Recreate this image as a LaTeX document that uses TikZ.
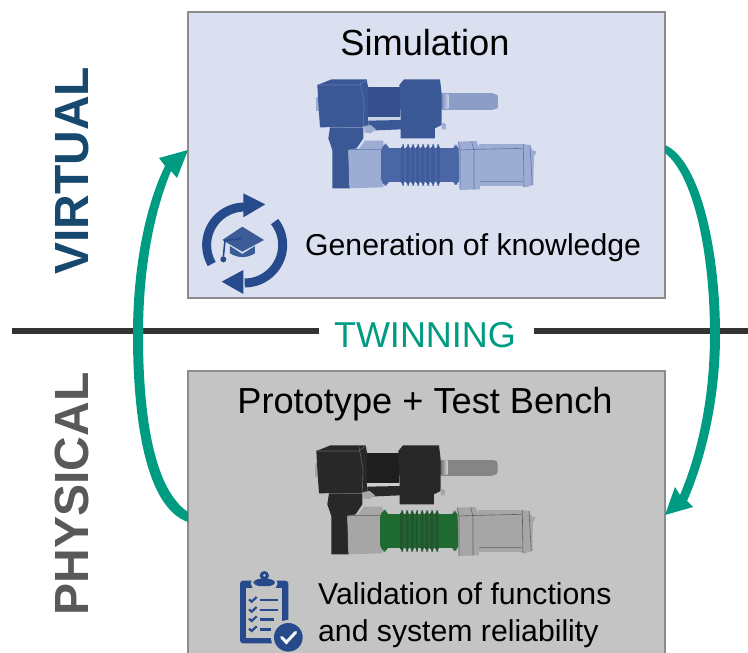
\documentclass[tikz,border=0pt]{standalone}
\usepackage{fontspec}
\setmainfont{Liberation Sans}
\usetikzlibrary{calc}
\definecolor{boxblue}{HTML}{DAE0F0}
\definecolor{boxgrey}{HTML}{C4C4C4}
\definecolor{edgegrey}{HTML}{8C8C8C}
\definecolor{twin}{HTML}{009C82}
\definecolor{navy}{HTML}{17496F}
\definecolor{iconblue}{HTML}{264A8C}
\definecolor{physgrey}{HTML}{595959}
\definecolor{barc}{HTML}{333333}
\tikzset{
  stagebox/.style={draw=edgegrey,line width=2pt,anchor=north west,minimum width=477pt,inner sep=0pt,outer sep=0pt},
  sidelabel/.style={font=\bfseries\fontsize{48}{50}\selectfont,rotate=90,inner sep=0pt},
  title/.style={font=\fontsize{36.2}{40}\selectfont,text=black,inner sep=0pt},
  caption/.style={font=\fontsize{30.2}{37}\selectfont,text=black,inner sep=0pt},
  bar/.style={draw=barc,line width=5.5pt},
  twinarrow/.style={fill=twin,draw=none},
}
% actuator drawn in coordinates of a 3x enlargement
\newcommand{\actuator}{%
  % knob at the left end
  \fill[mlight] (47,80) rectangle (56,122);
  % rod
  \shade[top color=mrod,middle color=mhigh,bottom color=mrod]
    (425,72) rectangle (580,118);
  \shade[top color=mrod,middle color=mhigh,bottom color=mrod,rounded corners=4pt]
    (572,72) rectangle (596,118);
  \shade[left color=mrod!80!mdark,right color=mhigh] (425,74) rectangle (445,116);
  % motor
  \shade[top color=mlight,middle color=mhigh!60!white,bottom color=mlight]
    (538,224) rectangle (670,348);
  \fill[mlight] (668,222)--(690,225)--(697,240)--(710,245)--(702,260)--(700,345)--(675,353)--(668,350)--cycle;
  \draw[mline,line width=.6pt] (670,222)--(672,350) (540,238)--(668,235) (540,335)--(668,335) (690,225)--(697,345);
  % upper parts
  \fill[mdark] (52,45)--(95,28)--(200,28)--(205,55)--(205,170)--(60,172)--(55,100)--cycle;
  \fill[mdarker] (205,52)--(300,52)--(300,140)--(205,140)--cycle;
  \fill[mhigh] (205,140) rectangle (302,152);
  \fill[mdark] (205,152)--(305,150)--(305,178)--(205,182)--cycle;
  \fill[mdark] (298,45)--(312,28)--(420,28)--(425,70)--(425,165)--(405,175)--(405,205)--(302,205)--(302,150)--cycle;
  \fill[mlight] (425,158)--(438,162)--(438,178)--(425,178)--cycle;
  \fill[mlight] (193,168)--(212,165)--(228,178)--(212,190)--(193,187)--cycle;
  \draw[mline,line width=.6pt] (180,32)--(192,100)--(190,168) (52,45)--(180,45)--(200,30);
  % lower left
  \fill[mdark] (90,172)--(190,172)--(190,205)--(170,235)--(145,240)--(150,355)--(97,355)--(97,240)--(85,205)--cycle;
  % light block
  \fill[mlight] (145,240)--(178,235)--(195,212)--(250,212)--(250,352)--(148,355)--cycle;
  \draw[mline,line width=.6pt] (145,240)--(178,238)--(250,238);
  % bellows
  \shade[top color=mbel,middle color=mbelhi,bottom color=mbel] (262,235) rectangle (470,335);
  \foreach \rx in {305,320,335,350,365,380,395,410}{
    \shade[top color=mrib,middle color=mbelhi!60!mrib,bottom color=mrib,rounded corners=3pt]
      (\rx,223) rectangle (\rx+9,347);
  }
  \shade[top color=mbel,middle color=mbelhi,bottom color=mbel,rounded corners=6pt] (245,222) rectangle (268,347);
  \shade[top color=mbel,middle color=mbelhi,bottom color=mbel,rounded corners=6pt] (457,225) rectangle (478,345);
  % flange
  \fill[mlight] (475,215)--(530,213)--(540,240)--(540,358)--(480,360)--cycle;
  \draw[mline,line width=.6pt] (475,215)--(480,240)--(480,358) (515,215)--(522,240)--(522,358) (480,240)--(540,238);
}
\begin{document}
\begin{tikzpicture}[x=1pt,y=-1pt]
\useasboundingbox (0,0) rectangle (748,653);

% boxes
\node[stagebox,fill=boxblue,minimum height=286pt] (sim) at (188,12) {};
\node[stagebox,fill=boxgrey,minimum height=296pt] (proto) at (188,371) {};

% twinning label and bars
\node[font=\fontsize{36}{40}\selectfont,text=twin,inner sep=0pt] (twinning) at (425,335) {TWINNING};
\coordinate (barL) at (12,331);
\coordinate (barR) at (748,331);
\coordinate (barLend) at ($(twinning.west |- barL)+(-15,0)$);
\coordinate (barRend) at ($(twinning.east |- barR)+(18,0)$);
\draw[bar] (barL) -- (barLend);
\draw[bar] (barRend) -- (barR);

% side labels
\node[sidelabel,text=navy] (virtual) at (72,171) {VIRTUAL};
\node[sidelabel,text=physgrey,font=\bfseries\fontsize{48}{50}\selectfont] (physical) at (72,494) {PHYSICAL};

% titles and captions
\node[title] (simt) at (425,43) {Simulation};
\node[title] (protot) at (425,404) {Prototype + Test Bench};
\node[caption,anchor=west] (gen) at (305,248) {Generation of knowledge};
\node[caption,anchor=west,align=left] (val) at (318,615) {Validation of functions\\and system reliability};

% connector end points on the boxes
\coordinate (leftstart) at (proto.west |- 0,520);
\coordinate (lefttip) at (sim.west |- 0,150);
\coordinate (rightstart) at (sim.east |- 0,149);
\coordinate (righttip) at (proto.east |- 0,515);

% left arrow
\fill[twinarrow] ($(leftstart)+(0,2)$)
  .. controls (146,508) and (133,420) .. (133,335)
  .. controls (133,265) and (146,205) .. (165,166)
  -- (159,158) -- (lefttip) -- (177,178) -- (171,171)
  .. controls (153,215) and (143,270) .. (143,335)
  .. controls (143,420) and (155,490) .. ($(leftstart)+(0,-8)$) -- cycle;

% right arrow
\fill[twinarrow] ($(rightstart)+(0,-4)$)
  .. controls (700,160) and (720,250) .. (720,335)
  .. controls (720,400) and (705,460) .. (687,501)
  -- (693,507) -- (righttip) -- (675,487) -- (680,495)
  .. controls (697,455) and (710,400) .. (710,335)
  .. controls (710,250) and (693,175) .. ($(rightstart)+(0,4)$) -- cycle;

% simulation actuator
\begin{scope}[shift={(300,70)},x=.3333pt,y=-.3333pt]
  \definecolor{mdark}{HTML}{3B5896}
  \definecolor{mdarker}{HTML}{35508C}
  \definecolor{mlight}{HTML}{9DACD2}
  \definecolor{mhigh}{HTML}{CBD3E8}
  \definecolor{mrod}{HTML}{8C9DC8}
  \definecolor{mline}{HTML}{5D76AE}
  \definecolor{mbel}{HTML}{4A66A5}
  \definecolor{mbelhi}{HTML}{6580BC}
  \definecolor{mrib}{HTML}{3F5B9B}
  \actuator
\end{scope}

% physical actuator
\begin{scope}[shift={(299,436)},x=.3333pt,y=-.3333pt]
  \definecolor{mdark}{HTML}{282828}
  \definecolor{mdarker}{HTML}{1E1E1E}
  \definecolor{mlight}{HTML}{A6A6A6}
  \definecolor{mhigh}{HTML}{CFCFCF}
  \definecolor{mrod}{HTML}{858585}
  \definecolor{mline}{HTML}{606060}
  \definecolor{mbel}{HTML}{1F6A30}
  \definecolor{mbelhi}{HTML}{2C8440}
  \definecolor{mrib}{HTML}{24552F}
  \actuator
\end{scope}

% refresh and graduation cap icon
\begin{scope}[shift={(190,190)},x=.3333pt,y=-.3333pt]
  \draw[iconblue,line width=9pt] plot[domain=150:270,samples=30] ({164+114*cos(\x)},{165+114*sin(\x)});
  \fill[iconblue] (160,10)--(226,43)--(160,82)--cycle;
  \draw[iconblue,line width=9pt] plot[domain=-38:90,samples=30] ({164+114*cos(\x)},{165+114*sin(\x)});
  \fill[iconblue] (160,240)--(95,275)--(160,312)--cycle;
  \fill[iconblue!90!white] (157,110)--(222,150)--(157,185)--(97,150)--cycle;
  \fill[iconblue!90!white] (120,168)--(157,192)--(195,168)--(195,190)..controls (170,205) and (145,205)..(120,190)--cycle;
  \draw[iconblue,line width=1.6pt] (157,145)--(105,152)--(100,200);
  \fill[iconblue] (100,208) circle[radius=9];
\end{scope}

% clipboard icon
\begin{scope}[shift={(225,565)},x=.3333pt,y=-.3333pt]
  \fill[iconblue,rounded corners=3pt] (45,47) rectangle (190,235);
  \fill[boxgrey] (62,70) rectangle (172,218);
  \fill[boxgrey,rounded corners=5pt] (78,38) rectangle (157,72);
  \fill[iconblue,rounded corners=5pt] (85,42) rectangle (150,63);
  \fill[iconblue] (118,32) circle[radius=14];
  \fill[boxgrey] (118,31) circle[radius=4];
  \foreach \yy/\xe in {105/160,135/160,163/147,193/137}{
    \draw[iconblue,line width=2.2pt] (72,\yy-2)--(80,\yy+5)--(95,\yy-9);
    \draw[iconblue,line width=2.8pt] (104,\yy)--(\xe,\yy);
  }
  \fill[boxgrey] (190,217) circle[radius=52];
  \fill[iconblue] (190,217) circle[radius=43];
  \draw[white!90!boxgrey,line width=3pt,line cap=round] (170,217)--(184,232)--(212,202);
\end{scope}
\end{tikzpicture}
\end{document}
